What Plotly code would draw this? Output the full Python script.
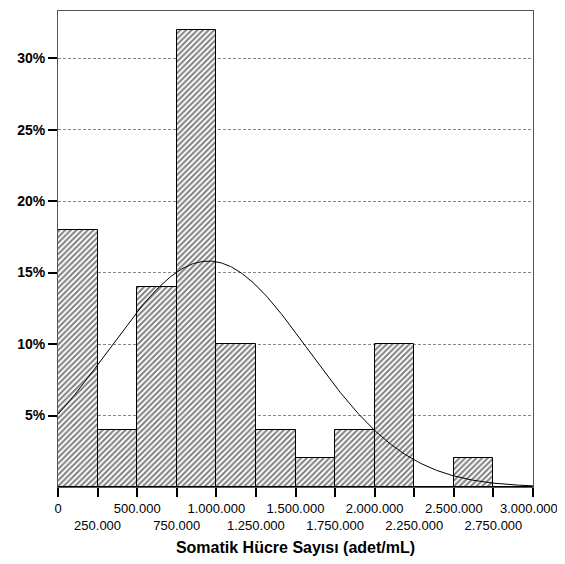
import numpy as np
import plotly.graph_objects as go

bin_starts = [0, 250000, 500000, 750000, 1000000, 1250000, 1500000, 1750000,
              2000000, 2250000, 2500000, 2750000]
bin_width = 250000
percents = [18, 4, 14, 32, 10, 4, 2, 4, 10, 0, 2, 0]

tick_vals = [0, 250000, 500000, 750000, 1000000, 1250000, 1500000, 1750000,
             2000000, 2250000, 2500000, 2750000, 3000000]
tick_text = ["0", "<br>250.000", "500.000", "<br>750.000", "1.000.000", "<br>1.250.000",
             "1.500.000", "<br>1.750.000", "2.000.000", "<br>2.250.000", "2.500.000",
             "<br>2.750.000", "3.000.000"]
y_ticks = [5, 10, 15, 20, 25, 30]
y_text = ["5%", "10%", "15%", "20%", "25%", "30%"]

# fitted normal curve parameters
mean_val = 950000
sd_val = 631000

xs = np.linspace(0, 3000000, 400)
curve = 100 * bin_width * np.exp(-0.5 * ((xs - mean_val) / sd_val) ** 2) / (sd_val * np.sqrt(2 * np.pi))

# last tick label drawn as annotation so it stays inside the page
shown_text = tick_text[:-1] + [""]

fig = go.Figure()
fig.add_trace(go.Bar(
    x=[b + bin_width / 2 for b in bin_starts], y=percents, width=bin_width,
    marker=dict(color="white", line=dict(color="black", width=1),
                pattern=dict(shape="/", size=4, solidity=0.5, fgcolor="black", bgcolor="white")),
    showlegend=False, hoverinfo="skip"))
fig.add_trace(go.Scatter(x=xs, y=curve, mode="lines", line=dict(color="black", width=1),
                         showlegend=False, hoverinfo="skip"))

fig.add_annotation(x=tick_vals[-1], xref="x", y=0, yref="paper", text=tick_text[-1],
                   showarrow=False, xanchor="right", yanchor="middle", xshift=27, yshift=-21,
                   font=dict(size=13, color="black"))

fig.update_layout(
    width=557, height=548, margin=dict(l=50, r=32, t=3, b=69),
    plot_bgcolor="white", paper_bgcolor="white", bargap=0,
    font=dict(family="Liberation Sans, Arial", color="black", size=12),
    xaxis=dict(range=[0, 3000000], tickvals=tick_vals, ticktext=shown_text, tickangle=0,
               automargin=False, ticklabeloverflow="allow",
               ticks="outside", ticklen=9, tickwidth=2, tickcolor="black",
               showgrid=False, zeroline=False, showline=True, linecolor="#555", linewidth=1,
               mirror=True, tickfont=dict(size=13),
               title=dict(text="<b>Somatik Hücre Sayısı (adet/mL)</b>", font=dict(size=16), standoff=26)),
    yaxis=dict(range=[0, 33.3], tickvals=y_ticks, ticktext=["<b>%s</b>" % t for t in y_text],
               automargin=False,
               ticks="outside", ticklen=9, tickwidth=2, tickcolor="black",
               showgrid=True, gridcolor="#888", griddash="3px,2px", gridwidth=1,
               zeroline=False, showline=True, linecolor="#555", linewidth=1, mirror=True,
               tickfont=dict(size=14)),
)
fig.write_html("out.html")
